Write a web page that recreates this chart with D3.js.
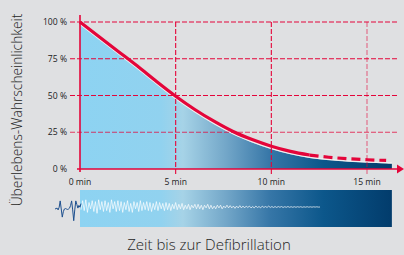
<!DOCTYPE html>
<html lang="de">
<head>
    <meta charset="utf-8">
    <title>Überlebens-Wahrscheinlichkeit</title>
    <script src="https://d3js.org/d3.v7.min.js" charset="utf-8"></script>
    <style type="text/css">
        body { margin: 0; background: #dfe0e2; }
        svg { display: block; }
        .tick-label { font-family: "Open Sans", sans-serif; font-size: 8.6px; fill: #222; }
        .title { font-family: "Open Sans", sans-serif; font-weight: 300; fill: #1e1e1e; }
    </style>
</head>
<body>
    <div id="main"></div>
    <script type="text/javascript">
            var width = 404;
            var height = 255;

            // minutes until defibrillation / survival probability (%)
            var minutes = [0, 1, 2, 3, 4, 5, 6, 7, 8, 9, 10, 11, 12, 13, 14, 15, 16, 16.3];
            var survival = [100, 90, 80, 70, 59.5, 49.5, 40.5, 32.5, 25.5, 20, 15.5, 12, 9.5, 8, 7, 6.3, 5.8, 5.6];
            var solidUntil = 12;   // after this the red line is dashed
            var lineUntil = 16;

            var yTicks = [0, 25, 50, 75, 100];
            var yTickLabels = ["0 %", "25 %", "50 %", "75 %", "100 %"];
            var xTicks = [0, 5, 10, 15];
            var xTickLabels = ["0 min", "5 min", "10 min", "15 min"];

            // ecg: lead-in (before strip) and fibrillation on the strip
            var ecgLead = [0, 0.5, 1, -1, 2, 9, 0, -9, -3, 0, 0.5, 0, -0.5, 0, 1, 4, 9, -1, -13, -1, 9, 5, 1, 4, 2, 6];
            var ecgFib = [-3, 7, -4, 8, -6, 5, -2, 7, -5, 6, -7, 8, -3, 6, -5, 7, -4, 5, -6, 8,
                          -2, 6, -5, 7, -4, 6, -6, 5, -3, 7, -5, 4, -6, 6, -2, 5, -5, 7, -4, 5,
                          -3, 6, -4, 5, -5, 4, -3, 6, -4, 5, -2, 4, -4, 5, -3, 4, -4, 3, -2, 5,
                          -3, 3, -2, 4, -3, 2, -2, 3, -3, 2, -1, 3, -2, 3, -2, 2, -3, 2, -1, 3,
                          -2, 2, -2, 1, -2, 2, -1, 2, -2, 1, -1, 2, -1, 1.5, -1, 1, -1.5, 1, -1, 1.5,
                          -1, 1, -1, 1, -0.5,
                          1, -1, 0.5, -1, 1, -0.5, 0.5, -1, 1, -0.5, 0.5, -0.5, 1, -0.5, 0.5, -0.5, 0.5, -0.5, 0.5, -0.3,
                          0.5, -0.5, 0.3, -0.3, 0.5, -0.3, 0.3, -0.3, 0.3, -0.3, 0.3, -0.2, 0.3, -0.3, 0.2, -0.2, 0.3, -0.2, 0.2, -0.2,
                          0.2, -0.1, 0.2, -0.1, 0];

            var red = "#e4053a";

            var svg = d3.select("div#main")
                        .append("svg")
                        .attr("width", width)
                        .attr("height", height)

            svg.append("rect").attr("width", width).attr("height", height).attr("fill", "#dfe0e2")

            var x = d3.scaleLinear().domain([0, 15]).range([80, 367])
            var y = d3.scaleLinear().domain([0, 100]).range([169, 22])

            // blue gradient used for area and ecg strip
            var defs = svg.append("defs")
            var grad = defs.append("linearGradient")
                .attr("id", "blue")
                .attr("gradientUnits", "userSpaceOnUse")
                .attr("x1", x(0)).attr("x2", x(16.3)).attr("y1", 0).attr("y2", 0)
            var stops = [[0, "#8dd3f2"], [0.26, "#91d2ef"], [0.33, "#a6d3e7"], [0.47, "#72a6c8"],
                         [0.61, "#3676a7"], [0.78, "#0c578b"], [1, "#023c6c"]]
            grad.selectAll("stop").data(stops).enter().append("stop")
                .attr("offset", function(d){ return d[0] })
                .attr("stop-color", function(d){ return d[1] })

            var pts = minutes.map(function(m, i){ return {m: m, v: survival[i]} })

            // area under curve (slightly below the red line)
            var area = d3.area()
                .x(function(d){ return x(d.m) })
                .y0(y(0))
                .y1(function(d){ return y(d.v) + 3 })
                .curve(d3.curveMonotoneX)
            svg.append("path").datum(pts).attr("d", area).attr("fill", "url(#blue)")

            var edge = d3.line()
                .x(function(d){ return x(d.m) })
                .y(function(d){ return y(d.v) + 2.2 })
                .curve(d3.curveMonotoneX)
            svg.append("path").datum(pts).attr("d", edge)
                .attr("fill", "none").attr("stroke", "#f4f4f4").attr("stroke-width", 1.3).attr("opacity", 0.8)

            // grid lines
            svg.append("g").selectAll("line")
                .data(yTicks.filter(function(d){ return d > 0 }))
                .enter().append("line")
                .attr("x1", 70).attr("x2", 398)
                .attr("y1", function(d){ return y(d) }).attr("y2", function(d){ return y(d) })
                .attr("stroke", red).attr("stroke-width", 1.1)
                .attr("stroke-dasharray", "5,2")
                .attr("opacity", function(d){ return d == 25 ? 0.75 : 1 })

            svg.append("g").selectAll("line")
                .data(xTicks.filter(function(d){ return d > 0 }))
                .enter().append("line")
                .attr("x1", function(d){ return x(d) }).attr("x2", function(d){ return x(d) })
                .attr("y1", y(100)).attr("y2", 174)
                .attr("stroke", red).attr("stroke-width", 1.1)
                .attr("stroke-dasharray", "5,2")
                .attr("opacity", function(d){ return d == 15 ? 0.55 : 1 })

            // axes
            svg.append("line").attr("x1", x(0)).attr("x2", x(0)).attr("y1", 15).attr("y2", 172)
                .attr("stroke", red).attr("stroke-width", 1.6)
            svg.append("line").attr("x1", 77).attr("x2", 398).attr("y1", y(0)).attr("y2", y(0))
                .attr("stroke", red).attr("stroke-width", 1.6)
            svg.append("path").attr("d", "M397," + (y(0) - 4.5) + "L404," + y(0) + "L397," + (y(0) + 4.5) + "Z")
                .attr("fill", red)

            // survival curve
            var line = d3.line()
                .x(function(d){ return x(d.m) })
                .y(function(d){ return y(d.v) })
                .curve(d3.curveMonotoneX)
            svg.append("path").datum(pts.filter(function(d){ return d.m <= solidUntil }))
                .attr("d", line).attr("fill", "none").attr("stroke", red).attr("stroke-width", 3.2)
            svg.append("path").datum(pts.filter(function(d){ return d.m >= solidUntil && d.m <= lineUntil }))
                .attr("d", line).attr("fill", "none").attr("stroke", red).attr("stroke-width", 3.2)
                .attr("stroke-dasharray", "9,5")

            // tick labels
            svg.append("g").selectAll("text")
                .data(yTicks).enter().append("text")
                .attr("class", "tick-label")
                .attr("x", 67).attr("y", function(d){ return y(d) + 3 })
                .attr("text-anchor", "end")
                .text(function(d, i){ return yTickLabels[i] })

            svg.append("g").selectAll("text")
                .data(xTicks).enter().append("text")
                .attr("class", "tick-label")
                .attr("x", function(d){ return x(d) }).attr("y", 185)
                .attr("text-anchor", "middle")
                .text(function(d, i){ return xTickLabels[i] })

            // ecg strip
            svg.append("rect").attr("x", x(0)).attr("y", 190).attr("width", x(16.3) - x(0)).attr("height", 37)
                .attr("fill", "url(#blue)")

            var fx = d3.scaleLinear().domain([0, ecgFib.length - 1]).range([81, 320])
            var fy = d3.scaleLinear().domain([-10, 10]).range([216, 198])
            svg.append("path").datum(ecgFib)
                .attr("d", d3.line().x(function(d, i){ return fx(i) }).y(function(d){ return fy(d) }))
                .attr("fill", "none").attr("stroke", "#ffffff").attr("stroke-width", 0.7)

            var lx = d3.scaleLinear().domain([0, ecgLead.length - 1]).range([55, 81])
            var ly = d3.scaleLinear().domain([-10, 10]).range([218, 200])
            svg.append("path").datum(ecgLead)
                .attr("d", d3.line().x(function(d, i){ return lx(i) }).y(function(d){ return ly(d) }))
                .attr("fill", "none").attr("stroke", "#1d4f8e").attr("stroke-width", 1)

            // titles
            svg.append("text").attr("class", "title")
                .attr("transform", "translate(22,110) rotate(-90)")
                .attr("text-anchor", "middle")
                .style("font-size", "13.8px")
                .text("Überlebens-Wahrscheinlichkeit")

            svg.append("text").attr("class", "title")
                .attr("x", 209).attr("y", 250)
                .attr("text-anchor", "middle")
                .style("font-size", "15px")
                .text("Zeit bis zur Defibrillation")
    </script>
</body>
</html>
